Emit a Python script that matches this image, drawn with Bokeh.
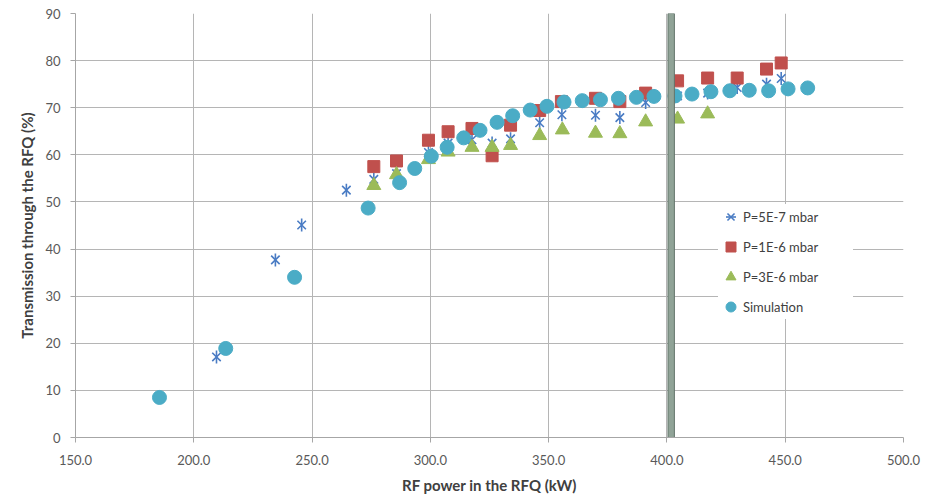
import math
from bokeh.plotting import figure
from bokeh.models import Range1d, SingleIntervalTicker, PrintfTickFormatter, Legend, LegendItem
from bokeh.embed import file_html
from bokeh.resources import INLINE

# ---- data ----
star_x = [209.6, 234.5, 245.6, 264.5, 276.1, 285.7, 299.2, 307.5, 317.6, 326.1, 333.9,
          346.2, 355.6, 369.8, 380.1, 391.0, 404.5, 417.2, 429.7, 442.1, 448.3]
star_y = [17.1, 37.7, 45.1, 52.5, 54.8, 56.0, 60.5, 62.5, 63.2, 62.5, 63.4,
          66.8, 68.5, 68.4, 67.9, 71.1, 72.5, 73.1, 74.3, 75.0, 76.2]

sq_x = [276.1, 285.7, 299.2, 307.5, 317.6, 326.1, 333.9, 346.2, 355.4, 369.8, 380.1,
        391.0, 404.5, 417.2, 429.7, 442.1, 448.3]
sq_y = [57.5, 58.7, 63.1, 64.9, 65.6, 59.8, 66.3, 69.4, 71.3, 72.0, 71.3,
        73.1, 75.7, 76.3, 76.3, 78.2, 79.5]

tri_x = [276.1, 285.7, 299.2, 307.5, 317.6, 326.1, 333.9, 346.2, 355.8, 369.8, 380.1,
         391.0, 404.5, 417.2]
tri_y = [53.5, 55.8, 59.0, 60.6, 61.6, 61.6, 62.0, 64.1, 65.3, 64.6, 64.5,
         67.0, 67.6, 68.7]

circ_x = [185.5, 213.5, 242.6, 273.7, 287.0, 293.4, 300.4, 307.1, 314.1, 321.0, 328.2,
          334.8, 342.2, 349.3, 356.5, 364.2, 371.9, 379.5, 387.1, 394.5, 403.4, 410.6,
          418.6, 426.6, 434.8, 443.0, 451.2, 459.5]
circ_y = [8.5, 18.9, 34.0, 48.7, 54.1, 57.1, 59.7, 61.6, 63.6, 65.2, 66.9,
          68.3, 69.5, 70.3, 71.2, 71.5, 71.7, 72.0, 72.2, 72.4, 72.5, 72.9,
          73.4, 73.6, 73.7, 73.6, 74.0, 74.2]

labels = ["P=5E-7 mbar", "P=1E-6 mbar", "P=3E-6 mbar", "Simulation"]
threshold_kw = 401.8

FONT = "Lato"
GRID = "#b5b5b5"
TXT = "#595959"

p = figure(width=927, height=499, output_backend="svg", toolbar_location=None,
           x_range=Range1d(150, 500), y_range=Range1d(0, 90),
           min_border_left=75, min_border_right=24, min_border_top=13, min_border_bottom=62)
p.outline_line_color = None
p.background_fill_color = "white"
p.border_fill_color = "white"

p.xaxis.ticker = SingleIntervalTicker(interval=50, num_minor_ticks=0)
p.yaxis.ticker = SingleIntervalTicker(interval=10, num_minor_ticks=0)
p.xaxis.formatter = PrintfTickFormatter(format="%.1f")
for ax in (p.xaxis, p.yaxis):
    ax.axis_line_color = "#a6a6a6"
    ax.major_tick_line_color = "#a6a6a6"
    ax.major_tick_out = 5
    ax.major_tick_in = 0
    ax.minor_tick_line_color = None
    ax.major_label_text_font = FONT
    ax.major_label_text_font_size = "13px"
    ax.major_label_text_color = TXT
    ax.axis_label_text_font = FONT
    ax.axis_label_text_font_size = "15px"
    ax.axis_label_text_font_style = "bold"
    ax.axis_label_text_color = "#404040"
p.xaxis.axis_label = "RF power in the RFQ (kW)"
p.yaxis.axis_label = "Transmission through the RFQ (%)"
p.xaxis.major_label_standoff = 12
p.yaxis.major_label_standoff = 10
p.xaxis.axis_label_standoff = 8
p.yaxis.axis_label_standoff = 6

p.xgrid.grid_line_color = GRID
p.ygrid.grid_line_color = GRID

c_star, c_sq, c_tri, c_circ = "#4a7cc4", "#c0504d", "#9bbb59", "#4bacc6"

r1a = p.scatter(star_x, star_y, marker="x", size=12, line_color=c_star, line_width=1.6)
r1b = p.scatter(star_x, star_y, marker="dash", size=13, angle=math.pi / 2,
                line_color=c_star, line_width=1.6)
r2 = p.scatter(sq_x, sq_y, marker="square", size=12, fill_color=c_sq, line_color=c_sq)
r3 = p.scatter(tri_x, tri_y, marker="triangle", size=14, fill_color=c_tri, line_color=c_tri)
r4 = p.scatter(circ_x, circ_y, marker="circle", size=14, fill_color=c_circ, line_color=c_circ)

p.vbar(x=[threshold_kw], width=2.7, top=[90.4], bottom=[-0.5],
       fill_color="#90a397", line_color="#62746a", line_width=1)

legend = Legend(items=[LegendItem(label=labels[0], renderers=[r1a, r1b]),
                       LegendItem(label=labels[1], renderers=[r2]),
                       LegendItem(label=labels[2], renderers=[r3]),
                       LegendItem(label=labels[3], renderers=[r4])],
                location=(643, 118), padding=6, spacing=5, margin=0,
                glyph_width=25, glyph_height=25, label_standoff=0, label_width=110,
                label_text_font=FONT, label_text_font_size="13px",
                label_text_color="#404040",
                background_fill_color="white", background_fill_alpha=1.0,
                border_line_color=None)
p.add_layout(legend)

open("out.html", "w").write(file_html(p, INLINE))
